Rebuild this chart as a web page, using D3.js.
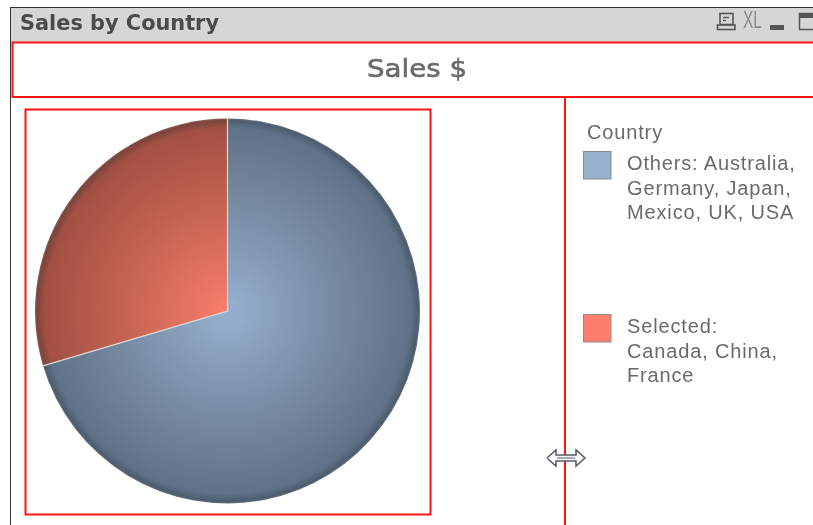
<!DOCTYPE html>
<html>
<head>
<meta charset="utf-8">
<script src="https://cdn.jsdelivr.net/npm/d3@7"></script>
<style>
html, body { margin: 0; padding: 0; background: #fff; overflow: hidden; }
svg { display: block; filter: blur(0.4px); }
</style>
</head>
<body>
<div id="chart"></div>
<script>
var width = 813, height = 525;

var categories = ["Others", "Selected"];
var shares = [70.4, 29.6];
var legendTitle = "Country";
var legendLines = [
    ["Others: Australia,", "Germany, Japan,", "Mexico, UK, USA"],
    ["Selected:", "Canada, China,", "France"]
];
var swatchColors = ["#98b1cf", "#fd7f6c"];
var gradientStops = [
    [["0%", "#96b1d0"], ["60%", "#75889f"], ["95%", "#5f7287"], ["99%", "#4d5d6e"], ["100%", "#66747f"]],
    [["0%", "#f87e6b"], ["60%", "#c0604f"], ["95%", "#a25044"], ["99%", "#7b443b"], ["100%", "#8d5c54"]]
];

var svg = d3.select("#chart").append("svg")
    .attr("width", width)
    .attr("height", height);

var defs = svg.append("defs");

// title bar
svg.append("rect").attr("x", 11).attr("y", 8).attr("width", width - 11).attr("height", 34).attr("fill", "#d6d6d6");
svg.append("line").attr("x1", 10).attr("x2", width).attr("y1", 7.5).attr("y2", 7.5).attr("stroke", "#333");
svg.append("line").attr("x1", 10.5).attr("x2", 10.5).attr("y1", 7).attr("y2", height).attr("stroke", "#333");

svg.append("text")
    .attr("x", 20)
    .attr("y", 30)
    .attr("font-family", "'DejaVu Sans', sans-serif")
    .attr("font-size", 21)
    .attr("font-weight", "bold")
    .attr("textLength", 199)
    .attr("lengthAdjust", "spacingAndGlyphs")
    .attr("fill", "#4a4a4a")
    .text("Sales by Country");

// window icons
var icons = svg.append("g").attr("fill", "none").attr("stroke", "#555");
icons.append("rect").attr("x", 720).attr("y", 13.5).attr("width", 13).attr("height", 11).attr("stroke-width", 1.6);
icons.append("rect").attr("x", 717.5).attr("y", 25).attr("width", 17.5).attr("height", 4.5).attr("stroke-width", 1.6);
icons.append("line").attr("x1", 723).attr("x2", 729).attr("y1", 17.5).attr("y2", 17.5).attr("stroke-width", 1.4);
icons.append("line").attr("x1", 723).attr("x2", 726).attr("y1", 20.5).attr("y2", 20.5).attr("stroke-width", 1.4);
svg.append("text")
    .attr("x", 743)
    .attr("y", 28)
    .attr("font-family", "'Liberation Sans Narrow', 'Liberation Sans', sans-serif")
    .attr("font-size", 24)
    .attr("textLength", 19)
    .attr("lengthAdjust", "spacingAndGlyphs")
    .attr("fill", "#8a8a8a")
    .text("XL");
svg.append("rect").attr("x", 770).attr("y", 25).attr("width", 14).attr("height", 5).attr("fill", "#555");
svg.append("rect").attr("x", 799.5).attr("y", 13.5).attr("width", 20).attr("height", 16).attr("fill", "none").attr("stroke", "#555").attr("stroke-width", 1.5);
svg.append("rect").attr("x", 799).attr("y", 13).attr("width", 20).attr("height", 5).attr("fill", "#555");

// red frames
var frames = svg.append("g").attr("fill", "none").attr("stroke", "#ff1414").attr("stroke-width", 2);
frames.append("rect").attr("x", 12.5).attr("y", 42.5).attr("width", width + 20).attr("height", 54.5);
frames.append("rect").attr("x", 25.5).attr("y", 109.5).attr("width", 405).attr("height", 405);
frames.append("line").attr("x1", 565).attr("x2", 565).attr("y1", 97).attr("y2", height);

svg.append("text")
    .attr("x", 417)
    .attr("y", 77)
    .attr("text-anchor", "middle")
    .attr("font-family", "'DejaVu Sans', sans-serif")
    .attr("font-size", 25)
    .attr("textLength", 100)
    .attr("lengthAdjust", "spacingAndGlyphs")
    .attr("fill", "#6a6a6a")
    .attr("stroke", "#6a6a6a")
    .attr("stroke-width", 0.6)
    .text("Sales $");

// pie
var cx = 227.5, cy = 311, radius = 192.5;

categories.forEach(function(c, i) {
    var grad = defs.append("radialGradient")
        .attr("id", "grad" + i)
        .attr("gradientUnits", "userSpaceOnUse")
        .attr("cx", 0).attr("cy", 0).attr("r", radius);
    gradientStops[i].forEach(function(s) {
        grad.append("stop").attr("offset", s[0]).attr("stop-color", s[1]);
    });
});

var pie = d3.pie().sort(null).value(function(d) { return d; });
var arc = d3.arc().innerRadius(0).outerRadius(radius);

var pieG = svg.append("g").attr("transform", "translate(" + cx + "," + cy + ")");
pieG.selectAll("path")
    .data(pie(shares))
    .enter()
    .append("path")
        .attr("d", arc)
        .attr("fill", function(d, i) { return "url(#grad" + i + ")"; });

// thin light line between the two slices
var sep = pie(shares)[1];
pieG.append("path")
    .attr("d", d3.line()([
        [radius * Math.sin(sep.startAngle), -radius * Math.cos(sep.startAngle)],
        [0, 0],
        [0, -radius]
    ]))
    .attr("fill", "none")
    .attr("stroke", "#dcdcdc")
    .attr("stroke-width", 1.2);

// legend
var legendFont = "'Liberation Sans', Arial, sans-serif";
svg.append("text")
    .attr("x", 587)
    .attr("y", 139)
    .attr("font-family", legendFont)
    .attr("font-size", 20)
    .attr("letter-spacing", 0.85)
    .attr("fill", "#6a6a6a")
    .text(legendTitle);

var swatchY = [151, 314];
var legendItems = svg.selectAll("g.legend")
    .data(categories)
    .enter()
    .append("g")
        .attr("class", "legend")
        .attr("transform", function(d, i) { return "translate(583," + swatchY[i] + ")"; });

legendItems.append("rect")
    .attr("x", 0.5).attr("y", 0.5)
    .attr("width", 27.5).attr("height", 27.5)
    .attr("fill", function(d, i) { return swatchColors[i]; })
    .attr("stroke", "#8c8c8c");

legendItems.each(function(d, i) {
    d3.select(this).selectAll("text")
        .data(legendLines[i])
        .enter()
        .append("text")
            .attr("x", 44)
            .attr("y", function(l, j) { return 19 + j * 24.5; })
            .attr("font-family", legendFont)
            .attr("font-size", 20)
            .attr("letter-spacing", 0.85)
            .attr("fill", "#6a6a6a")
            .text(function(l) { return l; });
});

// resize cursor
var cur = svg.append("g").attr("transform", "translate(566,458)");
cur.append("path")
    .attr("d", d3.line()([[-19, 0], [-10, -8], [-10, -3], [10, -3], [10, -8], [19, 0], [10, 8], [10, 3], [-10, 3], [-10, 8], [-19, 0]]))
    .attr("fill", "#fff")
    .attr("stroke", "#555a66")
    .attr("stroke-width", 1.5);
cur.append("line").attr("x1", -9).attr("x2", 9).attr("y1", 0).attr("y2", 0).attr("stroke", "#8a8f9a").attr("stroke-width", 1.5);
</script>
</body>
</html>
